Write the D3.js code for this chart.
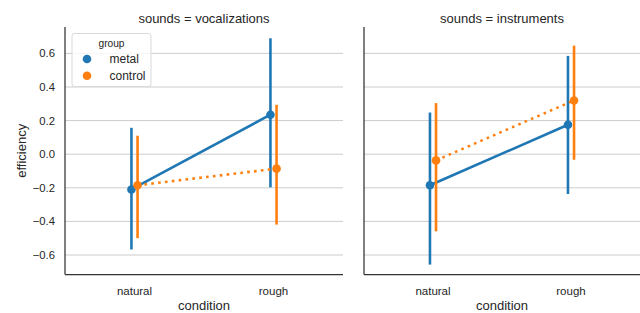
<!DOCTYPE html>
<html>
<head>
<meta charset="utf-8">
<script src="https://cdn.jsdelivr.net/npm/d3@7"></script>
<style>
  body { margin: 0; background: #fff; }
  text { font-family: "Liberation Sans", Arial, sans-serif; fill: #262626; }
</style>
</head>
<body>
<div id="container"></div>
<script>
// Data: point estimates with CI, per sound type, condition and group.
const sounds = ['vocalizations', 'instruments'];
const conditions = ['natural', 'rough'];
const groups = ['metal', 'control'];
const colours = ['#1f77b4', '#ff7f0e'];
const yTicks = [-0.6, -0.4, -0.2, 0.0, 0.2, 0.4, 0.6];

// [sound][group][condition]
const means = [
  [[-0.21, 0.235], [-0.185, -0.086]],
  [[-0.185, 0.175], [-0.037, 0.32]]
];
const ciLow = [
  [[-0.567, -0.197], [-0.50, -0.419]],
  [[-0.657, -0.237], [-0.459, -0.033]]
];
const ciHigh = [
  [[0.157, 0.69], [0.11, 0.294]],
  [[0.248, 0.585], [0.304, 0.646]]
];

const width = 640, height = 313;
const panels = [{ x0: 65, x1: 343 }, { x0: 364, x1: 640 }];
const plotTop = 27, plotBottom = 274.5;

const svg = d3.select('#container')
  .append('svg')
  .attr('width', width)
  .attr('height', height);

const y = d3.scaleLinear().domain([-0.716, 0.757]).range([plotBottom, plotTop]);
const dodge = 0.022;

sounds.forEach((sound, s) => {
  const p = panels[s];
  const x = d3.scaleLinear().domain([-0.5, 1.5]).range([p.x0, p.x1]);
  const g = svg.append('g');

  // grid
  g.selectAll('.grid')
    .data(yTicks)
    .enter()
    .append('line')
    .attr('x1', p.x0).attr('x2', p.x1)
    .attr('y1', d => y(d)).attr('y2', d => y(d))
    .attr('stroke', '#cccccc')
    .attr('stroke-width', 1);

  // y tick labels only on first panel
  if (s === 0) {
    g.selectAll('.ytick')
      .data(yTicks)
      .enter()
      .append('text')
      .attr('x', p.x0 - 10)
      .attr('y', d => y(d))
      .attr('dy', '0.35em')
      .attr('text-anchor', 'end')
      .attr('font-size', 11.3)
      .text(d => d3.format('.1f')(d).replace('-', '\u2212'));

    g.append('text')
      .attr('transform', `translate(26, ${(plotTop + plotBottom) / 2}) rotate(-90)`)
      .attr('text-anchor', 'middle')
      .attr('font-size', 13)
      .text('efficiency');
  }

  // x tick labels
  g.selectAll('.xtick')
    .data(conditions)
    .enter()
    .append('text')
    .attr('x', (d, i) => x(i))
    .attr('y', plotBottom + 20)
    .attr('text-anchor', 'middle')
    .attr('font-size', 11.5)
    .text(d => d);

  g.append('text')
    .attr('x', (p.x0 + p.x1) / 2)
    .attr('y', plotBottom + 35)
    .attr('text-anchor', 'middle')
    .attr('font-size', 13)
    .text('condition');

  // title
  g.append('text')
    .attr('x', (p.x0 + p.x1) / 2)
    .attr('y', 22.5)
    .attr('text-anchor', 'middle')
    .attr('font-size', 13)
    .text(`sounds = ${sound}`);

  // series
  groups.forEach((grp, k) => {
    const off = (k === 0 ? -dodge : dodge);
    const pts = conditions.map((c, i) => ({
      x: x(i + off), m: means[s][k][i], lo: ciLow[s][k][i], hi: ciHigh[s][k][i]
    }));

    g.selectAll(null)
      .data(pts)
      .enter()
      .append('line')
      .attr('x1', d => d.x).attr('x2', d => d.x)
      .attr('y1', d => y(d.lo)).attr('y2', d => y(d.hi))
      .attr('stroke', colours[k])
      .attr('stroke-width', 2.6);

    g.append('path')
      .datum(pts)
      .attr('d', d3.line().x(d => d.x).y(d => y(d.m)))
      .attr('fill', 'none')
      .attr('stroke', colours[k])
      .attr('stroke-width', 2.6)
      .attr('stroke-dasharray', k === 1 ? '2.6,4.3' : null);

    g.selectAll(null)
      .data(pts)
      .enter()
      .append('circle')
      .attr('cx', d => d.x)
      .attr('cy', d => y(d.m))
      .attr('r', 4.3)
      .attr('fill', colours[k]);
  });

  // spines
  g.append('line')
    .attr('x1', p.x0).attr('x2', p.x0)
    .attr('y1', plotTop).attr('y2', plotBottom)
    .attr('stroke', '#333').attr('stroke-width', 1.25);
  g.append('line')
    .attr('x1', p.x0).attr('x2', p.x1)
    .attr('y1', plotBottom).attr('y2', plotBottom)
    .attr('stroke', '#333').attr('stroke-width', 1.25);
});

// Legend
const lg = svg.append('g').attr('transform', 'translate(72, 33.5)');
lg.append('rect')
  .attr('width', 79).attr('height', 53)
  .attr('rx', 2.5)
  .attr('fill', '#fff').attr('fill-opacity', 0.8)
  .attr('stroke', '#d9d9d9');
lg.append('text')
  .attr('x', 39.5).attr('y', 10)
  .attr('dy', '0.35em')
  .attr('text-anchor', 'middle')
  .attr('font-size', 10.2)
  .text('group');
groups.forEach((grp, k) => {
  const row = lg.append('g').attr('transform', `translate(0, ${25.5 + k * 16.7})`);
  row.append('circle').attr('cx', 15).attr('r', 4.3).attr('fill', colours[k]);
  row.append('text')
    .attr('x', 37.5).attr('dy', '0.35em')
    .attr('font-size', 12)
    .text(grp);
});
</script>
</body>
</html>
